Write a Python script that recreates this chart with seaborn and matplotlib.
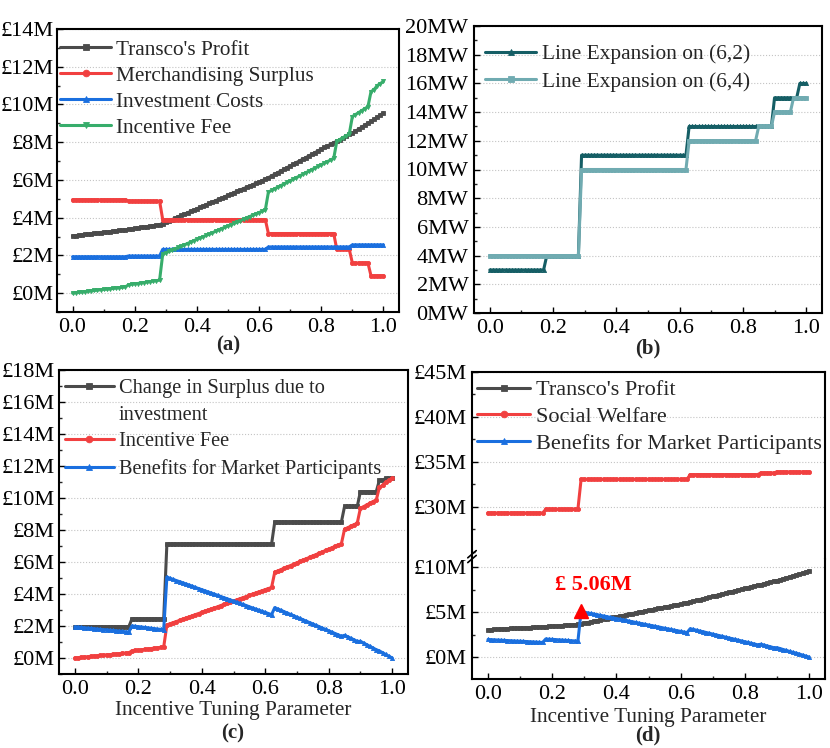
import numpy as np
import matplotlib
matplotlib.use('Agg')
import matplotlib.pyplot as plt
from matplotlib.lines import Line2D
from matplotlib.ticker import MultipleLocator, FuncFormatter
import seaborn as sns

# incentive tuning parameter, one sample every 0.01
tuning = np.round(np.linspace(0, 1, 101), 2)

# (a) money values in £M
transco_profit = [3.03, 3.05, 3.07, 3.09, 3.11, 3.13, 3.15, 3.17, 3.19, 3.21,
                  3.23, 3.24, 3.26, 3.28, 3.30, 3.32, 3.34, 3.36, 3.38, 3.40,
                  3.43, 3.45, 3.48, 3.50, 3.53, 3.55, 3.58, 3.60, 3.63, 3.69,
                  3.76, 3.83, 3.90, 3.97, 4.05, 4.12, 4.19, 4.26, 4.33, 4.40,
                  4.47, 4.54, 4.61, 4.69, 4.76, 4.83, 4.90, 4.97, 5.04, 5.11,
                  5.18, 5.25, 5.33, 5.40, 5.47, 5.54, 5.61, 5.68, 5.75, 5.82,
                  5.89, 5.96, 6.04, 6.12, 6.21, 6.30, 6.39, 6.47, 6.56, 6.65,
                  6.74, 6.83, 6.92, 7.01, 7.09, 7.18, 7.27, 7.36, 7.45, 7.54,
                  7.63, 7.72, 7.80, 7.89, 7.98, 8.04, 8.13, 8.23, 8.32, 8.42,
                  8.48, 8.58, 8.69, 8.79, 8.90, 9.00, 9.10, 9.21, 9.32, 9.44,
                  9.55]
merch_surplus = [4.95] * 18 + [4.88] * 11 + [3.90] * 34 + [3.16] * 22 + [2.32] * 5 + [1.60] * 6 + [0.92] * 5
invest_cost = [1.93] * 18 + [1.97] * 11 + [2.32] * 34 + [2.45] * 27 + [2.56] * 11
incentive_fee = [0.00, 0.02, 0.04, 0.06, 0.08, 0.10, 0.12, 0.14, 0.16, 0.18,
                 0.20, 0.21, 0.23, 0.25, 0.27, 0.29, 0.31, 0.33, 0.44, 0.47,
                 0.49, 0.51, 0.54, 0.56, 0.59, 0.61, 0.64, 0.66, 0.69, 2.06,
                 2.14, 2.21, 2.28, 2.35, 2.42, 2.49, 2.56, 2.63, 2.71, 2.78,
                 2.85, 2.92, 2.99, 3.06, 3.13, 3.20, 3.28, 3.35, 3.42, 3.49,
                 3.56, 3.63, 3.70, 3.77, 3.84, 3.92, 3.99, 4.06, 4.13, 4.20,
                 4.27, 4.34, 4.41, 5.36, 5.44, 5.53, 5.61, 5.70, 5.78, 5.87,
                 5.95, 6.04, 6.12, 6.21, 6.29, 6.38, 6.46, 6.55, 6.63, 6.72,
                 6.80, 6.89, 6.97, 7.06, 7.14, 8.05, 8.14, 8.24, 8.33, 8.43,
                 9.36, 9.46, 9.57, 9.67, 9.78, 9.88, 10.68, 10.79, 11.00, 11.11,
                 11.22]

# (b) line expansion in MW
line_62 = [3] * 18 + [4] * 11 + [11] * 34 + [13] * 27 + [15] * 8 + [16] * 3
line_64 = [4] * 29 + [10] * 34 + [12] * 22 + [13] * 5 + [14] * 6 + [15] * 5

# (c) / (d)
surplus_change = [1.95] * 18 + [2.45] * 11 + [7.12] * 34 + [8.50] * 22 + [9.47] * 5 + [10.40] * 6 + [11.12] * 2 + [11.22] * 3
market_benefit = [1.95, 1.93, 1.91, 1.89, 1.87, 1.85, 1.83, 1.81, 1.79, 1.77,
                  1.76, 1.74, 1.72, 1.70, 1.68, 1.66, 1.64, 1.62, 2.01, 1.98,
                  1.96, 1.94, 1.91, 1.89, 1.86, 1.84, 1.81, 1.79, 1.76, 5.06,
                  4.98, 4.91, 4.84, 4.77, 4.70, 4.63, 4.56, 4.49, 4.41, 4.34,
                  4.27, 4.20, 4.13, 4.06, 3.99, 3.92, 3.84, 3.77, 3.70, 3.63,
                  3.56, 3.49, 3.42, 3.35, 3.28, 3.20, 3.13, 3.06, 2.99, 2.92,
                  2.85, 2.78, 2.71, 3.15, 3.06, 2.98, 2.89, 2.81, 2.72, 2.64,
                  2.55, 2.47, 2.38, 2.30, 2.21, 2.13, 2.04, 1.96, 1.87, 1.79,
                  1.70, 1.62, 1.53, 1.45, 1.36, 1.42, 1.33, 1.23, 1.14, 1.04,
                  1.04, 0.94, 0.83, 0.73, 0.62, 0.52, 0.44, 0.33, 0.22, 0.11,
                  0.00]
social_welfare = [29.33] * 18 + [29.75] * 11 + [33.08] * 34 + [33.60] * 22 + [33.78] * 5 + [33.90] * 11

GRAY, RED, BLUE, GREEN = '#4b4b4b', '#f14040', '#1a6fdf', '#37ad6b'
TEAL_D, TEAL_L = '#155e65', '#70abb1'

sns.set_theme(style='ticks')
plt.rcParams['font.family'] = ['Liberation Serif', 'DejaVu Serif']
plt.rcParams.update({'xtick.direction': 'in', 'ytick.direction': 'in'})

fig = plt.figure(figsize=(8.3, 7.48), dpi=100)


def px_axes(left, top, right, bottom):
    return fig.add_axes([left / 830, 1 - bottom / 748, (right - left) / 830, (bottom - top) / 748])


def money(v, pos):
    return f'£{v:.0f}M'


def style(ax, major, minor, fmt, ypad=4):
    ax.set_xlim(-0.05, 1.05)
    ax.xaxis.set_major_locator(MultipleLocator(0.2))
    ax.xaxis.set_minor_locator(MultipleLocator(0.1))
    ax.xaxis.set_major_formatter(FuncFormatter(lambda v, p: f'{abs(v):.1f}'))
    ax.yaxis.set_major_locator(MultipleLocator(major))
    ax.yaxis.set_minor_locator(MultipleLocator(minor))
    ax.yaxis.set_major_formatter(FuncFormatter(fmt))
    ax.tick_params(which='major', length=4, width=1, labelsize=16, pad=4, colors='black')
    ax.tick_params(axis='y', which='major', pad=ypad)
    ax.tick_params(which='minor', length=2, width=1)
    ax.grid(axis='y', which='major', linestyle=':', color='#c4c4c4', linewidth=0.8)
    for s in ax.spines.values():
        s.set_linewidth(1.5)
        s.set_color('black')
    ax.set_xlabel('')
    ax.set_ylabel('')


def draw(ax, y, color, marker, label):
    sns.lineplot(x=tuning, y=y, ax=ax, color=color, marker=marker, markersize=3,
                 markeredgecolor=color, markeredgewidth=0.6, linewidth=2.2,
                 label=label, estimator=None, errorbar=None)


def legend(ax, x, y, size, spacing, handles=None, labels=None):
    if handles is None:
        handles, labels = ax.get_legend_handles_labels()
    ax.legend(handles, labels, loc='upper left', bbox_to_anchor=(x, y), frameon=False,
              fontsize=size, handlelength=2.4, handletextpad=0.25, labelspacing=spacing,
              borderaxespad=0, borderpad=0, markerscale=1.6)


# ---- (a)
ax_a = px_axes(57, 29, 399, 312)
draw(ax_a, transco_profit, GRAY, 's', "Transco's Profit")
draw(ax_a, merch_surplus, RED, 'o', 'Merchandising Surplus')
draw(ax_a, invest_cost, BLUE, '^', 'Investment Costs')
draw(ax_a, incentive_fee, GREEN, 'v', 'Incentive Fee')
style(ax_a, 2, 1, money, ypad=2.6)
ax_a.set_ylim(-1, 14)
legend(ax_a, 0.009, 0.962, 15.3, 0.29)

# ---- (b)
ax_b = px_axes(474, 26, 822, 313)
draw(ax_b, line_62, TEAL_D, '^', 'Line Expansion on (6,2)')
draw(ax_b, line_64, TEAL_L, 's', 'Line Expansion on (6,4)')
style(ax_b, 2, 1, lambda v, p: f'{v:.0f}MW')
ax_b.set_ylim(0, 20)
legend(ax_b, 0.032, 0.937, 15.4, 0.35)

# ---- (c)
ax_c = px_axes(59, 370, 408, 674)
draw(ax_c, surplus_change, GRAY, 's', 'Change in Surplus due to')
draw(ax_c, incentive_fee, RED, 'o', 'Incentive Fee')
draw(ax_c, market_benefit, BLUE, '^', 'Benefits for Market Participants')
style(ax_c, 2, 1, money, ypad=3.4)
ax_c.set_ylim(-1, 18)
h, l = ax_c.get_legend_handles_labels()
h.insert(1, Line2D([], [], linestyle='none'))
l.insert(1, 'investment')
legend(ax_c, 0.017, 0.972, 14.7, 0.37, h, l)
ax_c.set_xlabel('Incentive Tuning Parameter', fontsize=15.3, labelpad=2)

# ---- (d) broken y axis
ax_d_top = px_axes(472, 372, 825, 559)
ax_d_bot = px_axes(472, 559, 825, 679)
draw(ax_d_top, transco_profit, GRAY, 's', "Transco's Profit")
draw(ax_d_top, social_welfare, RED, 'o', 'Social Welfare')
draw(ax_d_top, market_benefit, BLUE, '^', 'Benefits for Market Participants')
draw(ax_d_bot, transco_profit, GRAY, 's', None)
draw(ax_d_bot, social_welfare, RED, 'o', None)
draw(ax_d_bot, market_benefit, BLUE, '^', None)
style(ax_d_top, 5, 2.5, money)
style(ax_d_bot, 5, 2.5, money)
ax_d_top.set_ylim(24.22, 45)
ax_d_bot.set_ylim(-2.44, 10.89)
ax_d_top.set_yticks([30, 35, 40, 45])
ax_d_top.spines['bottom'].set_visible(False)
ax_d_bot.spines['top'].set_visible(False)
ax_d_top.tick_params(axis='x', which='both', bottom=False, labelbottom=False)
legend(ax_d_top, 0.014, 0.958, 16, 0.28)
if ax_d_bot.get_legend():
    ax_d_bot.get_legend().remove()
ax_d_bot.set_xlabel('Incentive Tuning Parameter', fontsize=15.3, labelpad=3)

# break marks on the left spine
for off in (0.0, 0.04):
    ax_d_bot.plot([-0.012, 0.012], [1 + off - 0.03, 1 + off + 0.03], transform=ax_d_bot.transAxes,
                  color='black', linewidth=1.2, clip_on=False)

# peak benefit annotation
k = int(np.argmax(market_benefit))
ax_d_bot.plot(tuning[k], market_benefit[k], marker='^', color='red', markersize=10, zorder=5)
ax_d_bot.annotate(f'£ {market_benefit[k]:.2f}M', xy=(tuning[k], market_benefit[k]), xytext=(9, 19),
                  textcoords='offset points', ha='center', va='center', color='red',
                  fontweight='bold', fontsize=16)

# panel tags
for tag, px, py in [('(a)', 228, 345), ('(b)', 648, 348), ('(c)', 233, 733), ('(d)', 648, 735)]:
    fig.text(px / 830, 1 - py / 748, tag, ha='center', va='center', fontsize=15, fontweight='bold')

fig.savefig('out.png', dpi=100)
